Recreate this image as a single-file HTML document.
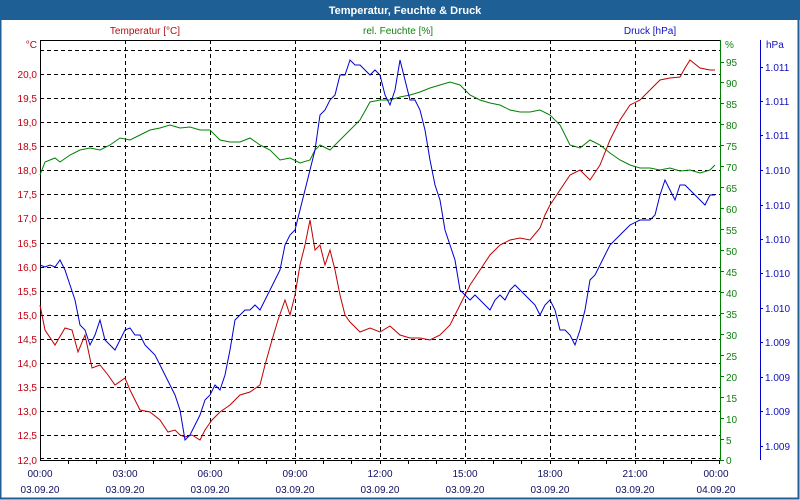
<!DOCTYPE html>
<html><head><meta charset="utf-8"><style>
html,body{margin:0;padding:0;background:#fff}
svg{display:block;font-family:"Liberation Sans",sans-serif}
</style></head><body>
<svg width="800" height="500" viewBox="0 0 800 500" xmlns="http://www.w3.org/2000/svg">
<rect x="0" y="0" width="800" height="500" fill="#fff"/>
<rect x="0" y="0" width="800" height="20" fill="#1e5f96"/>
<rect x="0.5" y="0.5" width="798" height="498" fill="none" stroke="#1e5f96" stroke-width="2"/>
<text x="405" y="14" text-anchor="middle" font-size="11" font-weight="bold" fill="#fff">Temperatur, Feuchte &amp; Druck</text>
<text x="145" y="34" text-anchor="middle" font-size="10" fill="#b01010">Temperatur [°C]</text>
<text x="398" y="34" text-anchor="middle" font-size="10" fill="#108010">rel. Feuchte [%]</text>
<text x="650" y="34" text-anchor="middle" font-size="10" fill="#1010c0">Druck [hPa]</text>
<g stroke="#000" stroke-width="1" stroke-dasharray="4,3" fill="none">
<path d="M40 50.5H720M40 74.5H720M40 98.5H720M40 122.5H720M40 146.5H720M40 170.5H720M40 194.5H720M40 218.5H720M40 243.5H720M40 267.5H720M40 291.5H720M40 315.5H720M40 339.5H720M40 363.5H720M40 387.5H720M40 411.5H720M40 435.5H720M40 458.5H720"/>
<path d="M125.5 40V460M210.5 40V460M295.5 40V460M380.5 40V460M465.5 40V460M550.5 40V460M635.5 40V460"/>
</g>
<path d="M40.5 40.5H720" stroke="#000"/>
<path d="M40.5 40V460.5H720" stroke="#000" fill="none"/>
<path d="M720.5 40V461" stroke="#008000"/>
<path d="M760.5 40V460" stroke="#0000d0"/>
<g stroke="#000"><path d="M68.5 460v4M96.5 460v4M125.5 460v4M153.5 460v4M181.5 460v4M210.5 460v4M238.5 460v4M266.5 460v4M295.5 460v4M323.5 460v4M351.5 460v4M380.5 460v4M408.5 460v4M436.5 460v4M465.5 460v4M493.5 460v4M521.5 460v4M550.5 460v4M578.5 460v4M606.5 460v4M635.5 460v4M663.5 460v4M691.5 460v4M719.5 460v4"/></g>
<g font-size="10" fill="#c00010" text-anchor="end">
<text x="37" y="48">°C</text>
<text x="37" y="78">20,0</text><text x="37" y="102">19,5</text><text x="37" y="126">19,0</text><text x="37" y="150">18,5</text><text x="37" y="174">18,0</text><text x="37" y="198">17,5</text><text x="37" y="222">17,0</text><text x="37" y="247">16,5</text><text x="37" y="271">16,0</text><text x="37" y="295">15,5</text><text x="37" y="319">15,0</text><text x="37" y="343">14,5</text><text x="37" y="367">14,0</text><text x="37" y="391">13,5</text><text x="37" y="415">13,0</text><text x="37" y="439">12,5</text><text x="37" y="464">12,0</text>
</g>
<g font-size="10" fill="#108010">
<g stroke="#008000"><path d="M720 460.5h4M720 439.5h4M720 418.5h4M720 397.5h4M720 376.5h4M720 355.5h4M720 334.5h4M720 313.5h4M720 292.5h4M720 271.5h4M720 250.5h4M720 229.5h4M720 208.5h4M720 187.5h4M720 166.5h4M720 145.5h4M720 124.5h4M720 103.5h4M720 82.5h4M720 62.5h4"/></g>
<text x="725" y="48">%</text>
<text x="726" y="66">95</text><text x="726" y="87">90</text><text x="726" y="108">85</text><text x="726" y="129">80</text><text x="726" y="150">75</text><text x="726" y="171">70</text><text x="726" y="192">65</text><text x="726" y="213">60</text><text x="726" y="234">55</text><text x="726" y="255">50</text><text x="726" y="276">45</text><text x="726" y="297">40</text><text x="726" y="318">35</text><text x="726" y="339">30</text><text x="726" y="360">25</text><text x="726" y="381">20</text><text x="726" y="402">15</text><text x="726" y="423">10</text><text x="726" y="444">5</text><text x="726" y="464">0</text>
</g>
<g font-size="10" fill="#1010c0">
<g stroke="#0000d0"><path d="M760 67.5h3M760 101.5h3M760 135.5h3M760 170.5h3M760 205.5h3M760 239.5h3M760 273.5h3M760 308.5h3M760 342.5h3M760 377.5h3M760 411.5h3M760 446.5h3"/></g>
<text x="766" y="48">hPa</text>
<text x="765" y="71">1.011</text><text x="765" y="105">1.011</text><text x="765" y="139">1.011</text><text x="765" y="174">1.010</text><text x="765" y="209">1.010</text><text x="765" y="243">1.010</text><text x="765" y="277">1.010</text><text x="765" y="312">1.010</text><text x="765" y="346">1.009</text><text x="765" y="381">1.009</text><text x="765" y="415">1.009</text><text x="765" y="450">1.009</text>
</g>
<g font-size="10" fill="#101060" text-anchor="middle">
<text x="40" y="477">00:00</text><text x="40" y="493">03.09.20</text>
<text x="125" y="477">03:00</text><text x="125" y="493">03.09.20</text>
<text x="210" y="477">06:00</text><text x="210" y="493">03.09.20</text>
<text x="295" y="477">09:00</text><text x="295" y="493">03.09.20</text>
<text x="380" y="477">12:00</text><text x="380" y="493">03.09.20</text>
<text x="465" y="477">15:00</text><text x="465" y="493">03.09.20</text>
<text x="550" y="477">18:00</text><text x="550" y="493">03.09.20</text>
<text x="635" y="477">21:00</text><text x="635" y="493">03.09.20</text>
<text x="716" y="477">00:00</text><text x="716" y="493">04.09.20</text>
</g>
<polyline fill="none" stroke="#008000" stroke-width="1" points="40,175 45,162 55,158 60,162 70,155 80,150 90,148 100,150 110,145 120,138 130,140 140,135 150,130 160,128 170,125 180,128 190,127 200,130 210,130 220,140 230,142 240,142 250,138 260,145 270,150 280,160 290,158 300,163 310,160 315,150 320,145 330,150 340,140 350,130 360,120 370,102 380,100 390,100 400,97 410,95 420,92 430,88 440,85 450,82 460,85 470,95 480,100 490,103 500,105 510,110 520,112 530,112 540,110 550,115 560,125 570,145 580,148 590,140 600,145 610,153 620,160 630,165 640,168 650,168 660,170 670,168 680,171 690,170 700,173 710,170 715,165"/>
<polyline fill="none" stroke="#c00000" stroke-width="1" points="40,305 45,330 55,345 65,328 72,330 78,352 85,335 92,368 100,365 108,375 115,385 125,378 130,390 140,410 150,412 160,420 168,432 175,430 180,435 185,437 192,435 200,440 205,430 212,420 220,412 230,405 240,395 250,392 260,385 265,365 272,340 278,320 285,300 290,315 295,295 300,265 305,245 310,220 315,250 320,245 325,265 330,250 335,270 340,295 345,315 350,322 360,332 370,328 380,332 390,326 400,335 410,338 420,338 430,340 440,335 450,325 460,305 470,285 480,270 490,255 500,245 510,240 520,238 530,240 540,228 545,215 550,205 560,190 570,175 580,170 590,180 600,165 610,140 620,120 630,105 640,100 650,90 660,80 670,78 680,77 685,68 690,60 700,68 710,70 715,70"/>
<polyline fill="none" stroke="#0000d0" stroke-width="1" points="40,265 45,267 50,265 55,267 60,260 65,270 70,285 75,300 80,325 85,330 90,345 95,335 100,320 105,340 110,345 115,350 120,340 125,330 130,328 135,335 140,335 145,345 150,350 155,355 160,365 165,375 170,385 175,395 180,410 185,440 190,435 195,425 200,415 205,400 210,395 215,385 220,390 225,375 230,350 235,320 240,315 245,310 250,310 255,305 260,310 265,300 270,290 275,280 280,270 285,245 290,235 295,230 300,210 305,190 310,170 315,150 320,115 325,110 330,100 335,95 340,75 345,75 350,60 355,65 360,65 365,70 370,75 375,70 380,75 385,95 390,105 395,90 400,60 405,80 410,100 415,100 420,110 425,130 430,160 435,185 440,200 445,230 450,245 455,260 460,290 465,295 470,300 475,295 480,300 485,305 490,310 495,300 500,295 505,300 510,290 515,285 520,290 525,295 530,300 535,305 540,315 545,305 550,300 555,310 560,330 565,330 570,335 575,345 580,330 585,310 590,280 595,275 600,265 605,255 610,245 620,235 630,225 640,220 650,220 655,215 660,195 665,180 670,190 675,200 680,185 685,185 690,190 695,195 700,200 705,205 710,195 715,195"/>
</svg>
</body></html>
